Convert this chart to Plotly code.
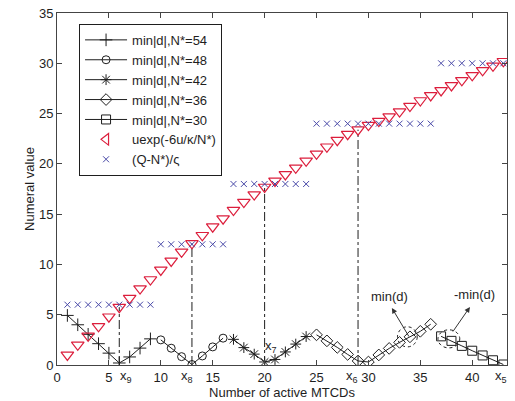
import plotly.graph_objects as go

# Number of active MTCDs for each min|d| curve
n_54 = [1, 2, 3, 4, 5, 6, 7, 8, 9]
n_48 = [10, 11, 12, 13, 14, 15, 16]
n_42 = [17, 18, 19, 20, 21, 22, 23, 24]
n_36 = [25, 26, 27, 28, 29, 30, 31, 32, 33, 34, 35, 36]
n_30 = [37, 38, 39, 40, 41, 42, 43]

# min|d| values
d_54 = [4.93, 4.0, 3.05, 2.12, 1.18, 0.2, 0.8, 1.68, 2.6]
d_48 = [2.5, 1.67, 0.83, 0.05, 0.9, 1.8, 2.67]
d_42 = [2.55, 1.73, 1.08, 0.3, 0.55, 1.3, 2.08, 2.83]
d_36 = [3.0, 2.4, 1.75, 1.05, 0.4, 0.3, 1.0, 1.65, 2.25, 2.8, 3.35, 4.05]
d_30 = [2.85, 2.4, 1.9, 1.42, 0.95, 0.47, 0.05]

# uexp(-6u/kappa/N*) and (Q-N*)/zeta over all N
n_all = list(range(1, 44))
u_exp = [1.0, 2.0, 2.9, 3.85, 4.8, 5.75, 6.65, 7.6, 8.5, 9.45,
         10.35, 11.25, 12.1, 12.9, 13.75, 14.55, 15.4, 16.2, 16.95, 17.7,
         18.3, 18.95, 19.6, 20.3, 21.0, 21.7, 22.35, 22.95, 23.4, 23.85,
         24.25, 24.7, 25.2, 25.75, 26.3, 26.8, 27.3, 27.8, 28.3, 28.8,
         29.3, 29.75, 30.2]
q_level = [6, 6, 6, 6, 6, 6, 6, 6, 6,
           12, 12, 12, 12, 12, 12, 12,
           18, 18, 18, 18, 18, 18, 18, 18,
           24, 24, 24, 24, 24, 24, 24, 24, 24, 24, 24, 24,
           30, 30, 30, 30, 30, 30, 30]

# Switching points x9, x8, x7, x6, x5
switch_n = [6, 13, 20, 29, 43]
switch_names = ["x<sub>9</sub>", "x<sub>8</sub>", "x<sub>7</sub>", "x<sub>6</sub>", "x<sub>5</sub>"]

x_ticks = [0, 5, 10, 15, 20, 25, 30, 35, 40]
y_ticks = [0, 5, 10, 15, 20, 25, 30, 35]

FONT = "Liberation Sans, Arial, sans-serif"
BLACK = "#1e1e1e"
RED = "#dc1e3c"
BLUE = "#4a4aa8"

fig = go.Figure()

# dash-dot drop lines from the uexp curve down to the axis at each switching point
for k in switch_n[:-1]:
    top = u_exp[n_all.index(k)]
    fig.add_trace(go.Scatter(x=[k, k], y=[0, top], mode="lines", showlegend=False,
                             hoverinfo="skip",
                             line=dict(color=BLACK, width=1, dash="dashdot")))

curves = [
    (n_54, d_54, "min|d|,N*=54", "cross-thin-open", 9),
    (n_48, d_48, "min|d|,N*=48", "circle-open", 8),
    (n_42, d_42, "min|d|,N*=42", "asterisk-open", 9),
    (n_36, d_36, "min|d|,N*=36", "diamond-open", 9),
    (n_30, d_30, "min|d|,N*=30", "square-open", 9),
]
for xs, ys, name, sym, sz in curves:
    fig.add_trace(go.Scatter(
        x=xs, y=ys, mode="lines+markers", name=name,
        line=dict(color=BLACK, width=1),
        marker=dict(symbol=sym, size=sz, color=BLACK, line=dict(color=BLACK, width=1)),
    ))

# uexp curve (legend entry drawn separately)
fig.add_trace(go.Scatter(
    x=n_all, y=u_exp, mode="markers", showlegend=False,
    marker=dict(symbol="triangle-down-open", size=11, color=RED, line=dict(color=RED, width=1.2)),
))
fig.add_trace(go.Scatter(
    x=[None], y=[None], mode="markers", name="uexp(-6u/\u03ba/N*)",
    marker=dict(symbol="triangle-left-open", size=10, color=RED, line=dict(color=RED, width=1.2)),
))
fig.add_trace(go.Scatter(
    x=n_all, y=q_level, mode="markers", name="(Q-N*)/\u03c2",
    marker=dict(symbol="x-thin-open", size=6, color=BLUE, line=dict(color=BLUE, width=1)),
))

annotations = []
# switching-point labels under the axis
shifts = {6: 7, 13: -5, 29: -6, 43: -2}
for k, lab in zip(switch_n, switch_names):
    if k == 20:
        annotations.append(dict(x=k, y=1.8, xref="x", yref="y", text=lab, showarrow=False,
                                xshift=6, font=dict(family=FONT, size=13, color=BLACK)))
    else:
        annotations.append(dict(x=k, y=0, xref="x", yref="paper", text=lab, showarrow=False,
                                xshift=shifts[k], yanchor="top", yshift=-1,
                                font=dict(family=FONT, size=13, color=BLACK)))

# min(d) / -min(d) callouts
annotations += [
    dict(x=32.0, y=6.8, xref="x", yref="y", text="min(d)", showarrow=False,
         font=dict(family=FONT, size=13, color=BLACK)),
    dict(x=40.2, y=7.0, xref="x", yref="y", text="-min(d)", showarrow=False,
         font=dict(family=FONT, size=13, color=BLACK)),
    dict(x=32.26, y=5.67, ax=33.99, ay=2.68, xref="x", yref="y", axref="x", ayref="y",
         text="", showarrow=True, arrowhead=2, arrowsize=1.1, arrowwidth=1, arrowcolor="#333"),
    dict(x=39.78, y=5.77, ax=38.04, ay=3.18, xref="x", yref="y", axref="x", ayref="y",
         text="", showarrow=True, arrowhead=2, arrowsize=1.1, arrowwidth=1, arrowcolor="#333"),
]

shapes = [
    dict(type="circle", xref="x", yref="y", x0=32.8, x1=34.7, y0=1.8, y1=3.8,
         line=dict(color=BLACK, width=1, dash="dot")),
    dict(type="circle", xref="x", yref="y", x0=36.7, x1=38.8, y0=1.7, y1=3.5,
         line=dict(color=BLACK, width=1, dash="dot")),
]

fig.update_layout(
    width=515, height=401,
    margin=dict(l=57, r=8, t=13, b=36),
    paper_bgcolor="white", plot_bgcolor="white",
    font=dict(family=FONT, size=13, color=BLACK),
    annotations=annotations, shapes=shapes,
    legend=dict(x=0.049, y=0.969, xanchor="left", yanchor="top",
                bgcolor="white", bordercolor=BLACK, borderwidth=1, itemwidth=42,
                font=dict(family=FONT, size=13, color=BLACK), tracegroupgap=0),
    xaxis=dict(range=[0, 43.35], tickvals=x_ticks, ticks="inside", ticklen=5,
               showline=True, linecolor="#444", linewidth=1, mirror="ticks",
               showgrid=False, zeroline=False, automargin=False,
               title=dict(text="Number of active MTCDs", standoff=3,
                          font=dict(family=FONT, size=13))),
    yaxis=dict(range=[0, 35], tickvals=y_ticks, ticks="inside", ticklen=5,
               showline=True, linecolor="#444", linewidth=1, mirror="ticks",
               showgrid=False, zeroline=False, automargin=False,
               title=dict(text="Numeral value", standoff=1,
                          font=dict(family=FONT, size=13))),
)

fig.write_html("out.html")
